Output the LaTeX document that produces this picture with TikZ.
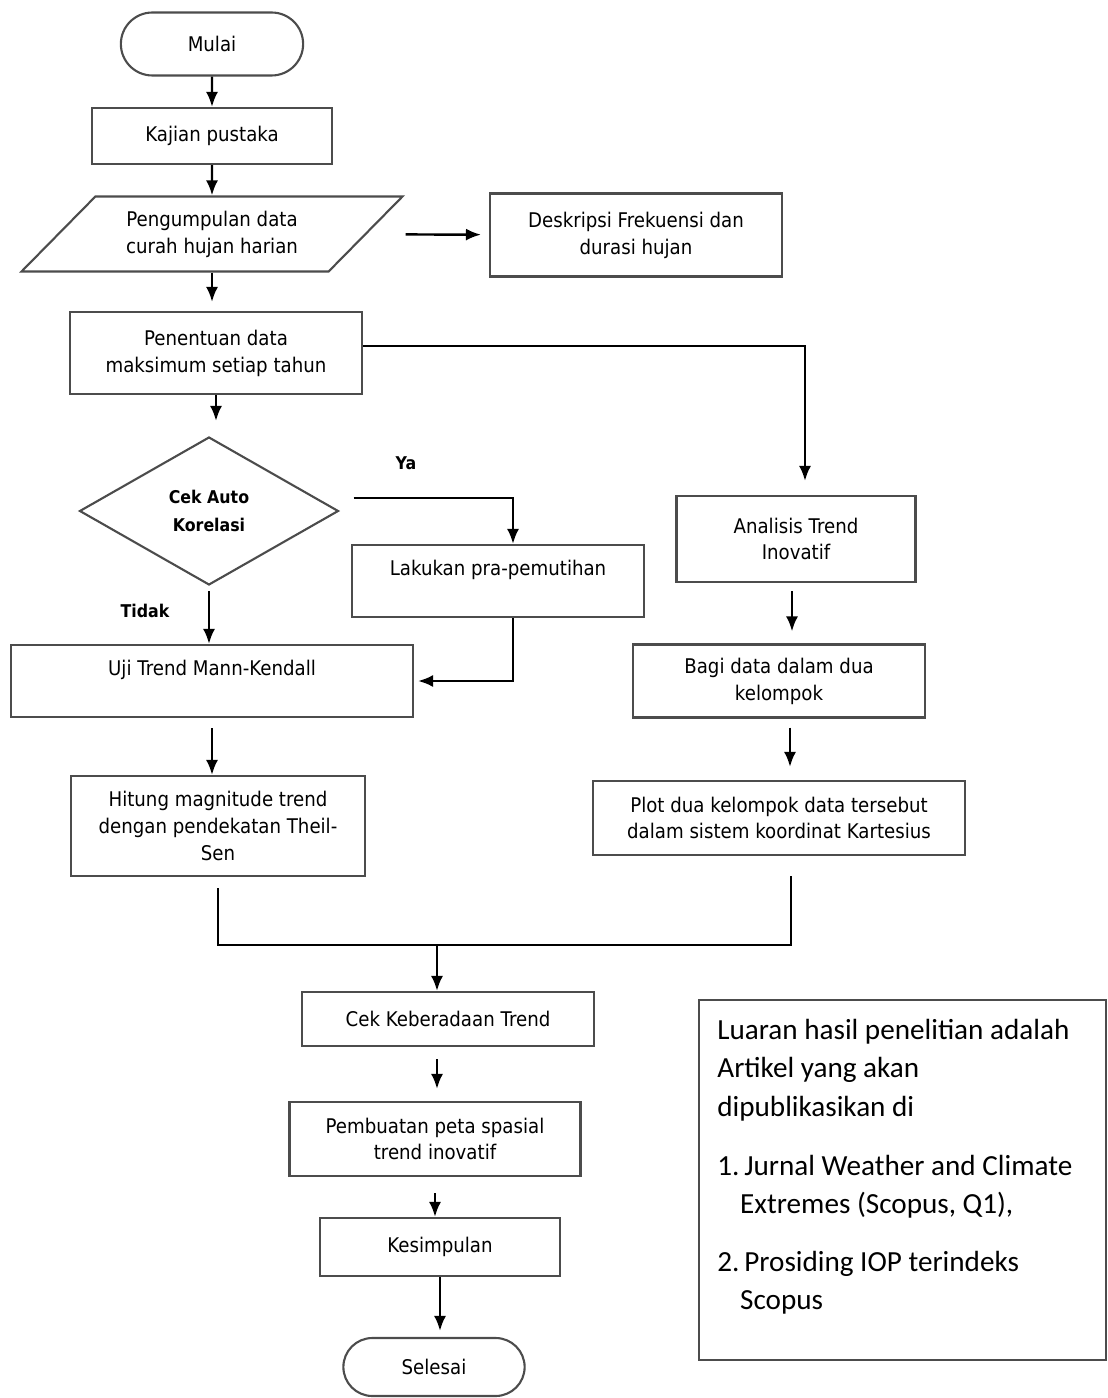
\documentclass[tikz,border=0pt]{standalone}
\usepackage{fontspec}
\setmainfont[FakeStretch=0.9]{DejaVu Sans}
\newfontfamily\notefont{Carlito}
\usepackage{tikz}
\usetikzlibrary{arrows.meta,shapes.geometric,shapes.misc}

\begin{document}
\begin{tikzpicture}[x=0.02cm,y=-0.02cm,
    box/.style={draw=black!70,line width=1.2pt,rectangle,align=center,font=\fontsize{11.5}{15.3}\selectfont},
    terminal/.style={box,rounded rectangle},
    datain/.style={box,trapezium,trapezium left angle=45,trapezium right angle=135,trapezium stretches=true},
    decision/.style={box,diamond,font=\bfseries\fontsize{10}{15.9}\selectfont},
    arrow/.style={-{Latex[length=0.3cm,width=0.24cm]},line width=1.4pt},
    link/.style={line width=1.4pt},
    lbl/.style={font=\bfseries\fontsize{10}{12}\selectfont}]
    \useasboundingbox (0,0) rectangle (1107,1398);
    % start, literature, data
    \node[terminal,minimum width=3.88cm,minimum height=1.26cm] (mulai) at (212,44) {Mulai};
    \node[box,minimum width=4.8cm,minimum height=1.12cm] (kajian) at (212,136) {Kajian pustaka};
    \node[datain,minimum width=7.64cm,minimum height=1.5cm] (kumpul) at (212,234) {Pengumpulan data\\curah hujan harian};
    \node[box,minimum width=5.84cm,minimum height=1.66cm] (deskripsi) at (636,235) {Deskripsi Frekuensi dan\\durasi hujan};
    \node[box,minimum width=5.84cm,minimum height=1.64cm] (penentuan) at (216,353) {Penentuan data\\maksimum setiap tahun};
    % left branch
    \node[decision,minimum width=5.18cm,minimum height=2.96cm] (cekauto) at (209,511) {Cek Auto\\Korelasi};
    \node[box,minimum width=5.84cm,minimum height=1.44cm] (pra) at (498,581) {Lakukan pra-pemutihan\\ ~};
    \node[box,minimum width=8.04cm,minimum height=1.44cm] (uji) at (212,681) {Uji Trend Mann-Kendall\\ ~};
    \node[box,minimum width=5.88cm,minimum height=2cm] (hitung) at (218,826) {Hitung magnitude trend\\dengan pendekatan Theil-\\Sen};
    \node[lbl] (ya) at (406,463) {Ya};
    \node[lbl] (tidak) at (145,611) {Tidak};
    % right branch
    \node[box,minimum width=4.78cm,minimum height=1.72cm] (analisis) at (796,539) {Analisis Trend\\Inovatif};
    \node[box,minimum width=5.84cm,minimum height=1.46cm] (bagi) at (779,681) {Bagi data dalam dua\\kelompok};
    \node[box,minimum width=7.44cm,minimum height=1.48cm] (plot) at (779,818) {Plot dua kelompok data tersebut\\dalam sistem koordinat Kartesius};
    % last steps
    \node[box,minimum width=5.84cm,minimum height=1.08cm] (cektrend) at (448,1019) {Cek Keberadaan Trend};
    \node[box,minimum width=5.82cm,minimum height=1.48cm] (peta) at (435,1139) {Pembuatan peta spasial\\trend inovatif};
    \node[box,minimum width=4.8cm,minimum height=1.16cm] (simpul) at (440,1247) {Kesimpulan};
    \node[terminal,minimum width=3.86cm,minimum height=1.16cm] (selesai) at (434,1367) {Selesai};
    % output note
    \node[draw=black!70,line width=1.2pt,minimum width=8.14cm,minimum height=7.2cm,anchor=north west] (luaran) at (698,999) {};
    \node[anchor=north west,align=left,inner sep=0pt,font=\notefont\fontsize{16.6}{21.8}\selectfont] (luarantext) at (717,1019)
        {Luaran hasil penelitian adalah\\Artikel yang akan\\dipublikasikan di\\[12pt]1.\,Jurnal Weather and Climate\\\hspace*{13pt}Extremes (Scopus, Q1),\\[11pt]2.\,Prosiding IOP terindeks\\\hspace*{13pt}Scopus};
    % arrows
    \draw[arrow] (mulai) -- (kajian);
    \draw[arrow] (kajian) -- (kumpul);
    \draw[arrow,shorten <=0.78cm,shorten >=0.16cm] (kumpul) -- (deskripsi);
    \draw[arrow,shorten >=0.18cm] (kumpul.south) -- (kumpul.south |- penentuan.north);
    \draw[arrow,shorten >=0.3cm] (penentuan.south) -- (penentuan.south |- cekauto.north);
    \draw[arrow,shorten >=0.28cm] ([yshift=0.14cm]penentuan.east) -| ([xshift=0.18cm]analisis.north);
    \draw[arrow] ([shift={(0.28cm,0.26cm)}]cekauto.east) -| ([xshift=0.3cm]pra.north);
    \draw[arrow,shorten <=0.1cm] (cekauto.south) -- (cekauto.south |- uji.north);
    \draw[arrow] ([xshift=0.3cm]pra.south) |- ([xshift=0.08cm]uji.east);
    \draw[arrow,shorten <=0.2cm] (uji.south) -- (uji.south |- hitung.north);
    \draw[arrow,shorten <=0.16cm,shorten >=0.24cm] ([xshift=-0.08cm]analisis.south) -- ([xshift=-0.08cm]analisis.south |- bagi.north);
    \draw[arrow,shorten <=0.18cm,shorten >=0.26cm] ([xshift=0.22cm]bagi.south) -- ([xshift=0.22cm]bagi.south |- plot.north);
    % merge
    \coordinate (gabung) at (437,945);
    \draw[link] ([yshift=-0.22cm]hitung.south) -- (hitung.south |- gabung) -- ([xshift=0.24cm]plot.south |- gabung) -- ([xshift=0.24cm,yshift=-0.4cm]plot.south);
    \draw[arrow] (gabung) -- (gabung |- cektrend.north);
    \draw[arrow,shorten <=0.24cm,shorten >=0.24cm] ([xshift=-0.22cm]cektrend.south) -- ([xshift=-0.22cm]cektrend.south |- peta.north);
    \draw[arrow,shorten <=0.32cm] (peta.south) -- (peta.south |- simpul.north);
    \draw[arrow,shorten >=0.12cm] (simpul.south) -- (simpul.south |- selesai.north);
\end{tikzpicture}
\end{document}
